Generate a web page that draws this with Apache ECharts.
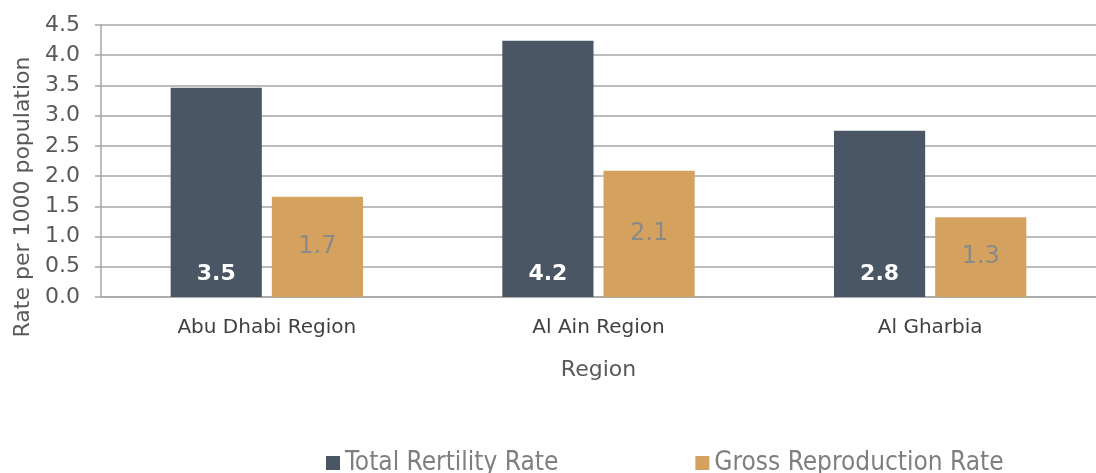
<!DOCTYPE html>
<html>
<head>
<meta charset="utf-8">
<script src="https://cdn.jsdelivr.net/npm/echarts@6/dist/echarts.min.js"></script>
<style>
  html, body { margin: 0; padding: 0; background: #fff; }
  #chart { width: 1096px; height: 473px; }
</style>
</head>
<body>
<div id="chart"></div>
<script>
// data
const regions = ['Abu Dhabi Region', 'Al Ain Region', 'Al Gharbia'];
const totalFertility = [3.46, 4.24, 2.75];
const grossReproduction = [1.66, 2.09, 1.32];
const yTicks = ['0.0', '0.5', '1.0', '1.5', '2.0', '2.5', '3.0', '3.5', '4.0', '4.5'];

const font = 'DejaVu Sans';
const chart = echarts.init(document.getElementById('chart'));

const option = {
  animation: false,
  textStyle: { fontFamily: font },
  grid: { left: 101, right: 0, top: 25, bottom: 176, containLabel: false },
  legend: {
    top: 445,
    left: 321,
    itemGap: 137,
    itemWidth: 14,
    itemHeight: 14,
    icon: 'rect',
    textStyle: { fontFamily: 'DejaVu Sans Condensed', fontSize: 26, color: '#7f7f7f' },
    data: ['Total Rertility Rate', 'Gross Reproduction Rate']
  },
  xAxis: {
    type: 'category',
    data: regions,
    name: 'Region',
    nameLocation: 'middle',
    nameGap: 62,
    nameTextStyle: { fontSize: 22, color: '#595959', fontFamily: font },
    axisLine: { lineStyle: { color: '#a6a6a6', width: 1.5 } },
    axisTick: { length: 8, lineStyle: { color: '#a6a6a6', width: 1.5 } },
    axisLabel: { fontSize: 20, color: '#404040', margin: 21, fontFamily: font }
  },
  yAxis: {
    type: 'value',
    min: 0,
    max: 4.5,
    interval: 0.5,
    axisLine: { show: true, lineStyle: { color: '#a6a6a6', width: 1.5 } },
    axisTick: { show: true, length: 6, lineStyle: { color: '#a6a6a6', width: 1.5 } },
    splitLine: { lineStyle: { color: '#a6a6a6', width: 1.5 } },
    axisLabel: {
      fontSize: 22,
      color: '#595959',
      margin: 21,
      fontFamily: font,
      formatter: function (v) { return yTicks[Math.round(v / 0.5)]; }
    }
  },
  graphic: [{
    type: 'text',
    rotation: Math.PI / 2,
    x: 23,
    y: 197,
    style: {
      text: 'Rate per 1000 population',
      fontSize: 22,
      fill: '#595959',
      fontFamily: font,
      align: 'center',
      verticalAlign: 'middle'
    }
  }],
  series: [
    {
      name: 'Total Rertility Rate',
      type: 'bar',
      data: totalFertility,
      barGap: '11%',
      barCategoryGap: '42%',
      itemStyle: { color: '#4a5664' },
      label: {
        show: true,
        position: 'insideBottom',
        distance: 12,
        color: '#fff',
        fontWeight: 'bold',
        fontSize: 22,
        fontFamily: font,
        formatter: function (p) { return p.value.toFixed(1); }
      }
    },
    {
      name: 'Gross Reproduction Rate',
      type: 'bar',
      data: grossReproduction,
      itemStyle: { color: '#d4a25e' },
      label: {
        show: true,
        position: 'inside',
        color: '#8a8a8a',
        fontSize: 24,
        fontFamily: font,
        formatter: function (p) { return p.value.toFixed(1); }
      }
    }
  ]
};

chart.setOption(option);
window.onresize = function () { chart.resize(); };
</script>
</body>
</html>
